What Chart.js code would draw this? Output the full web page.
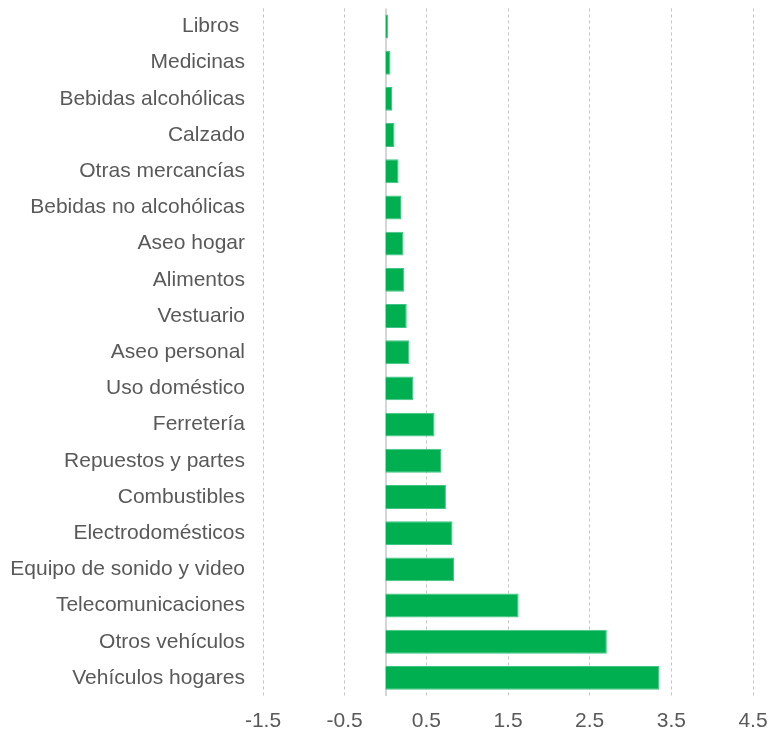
<!DOCTYPE html>
<html>
<head>
<meta charset="utf-8">
<script src="https://cdn.jsdelivr.net/npm/chart.js@4/dist/chart.umd.min.js"></script>
<style>
  html, body { margin: 0; padding: 0; background: #fff; }
  #wrap { width: 768px; height: 733px; }
</style>
</head>
<body>
<div id="wrap"><canvas id="barChart"></canvas></div>
<script>
// categories, top to bottom
const categories = ['Libros ', 'Medicinas', 'Bebidas alcohólicas', 'Calzado', 'Otras mercancías',
  'Bebidas no alcohólicas', 'Aseo hogar', 'Alimentos', 'Vestuario', 'Aseo personal',
  'Uso doméstico', 'Ferretería', 'Repuestos y partes', 'Combustibles', 'Electrodomésticos',
  'Equipo de sonido y video', 'Telecomunicaciones', 'Otros vehículos', 'Vehículos hogares'];
const values = [0.03, 0.06, 0.08, 0.11, 0.16, 0.19, 0.22, 0.23, 0.26, 0.29,
  0.34, 0.60, 0.68, 0.74, 0.82, 0.84, 1.63, 2.71, 3.35];
const axisMin = -1.5;
const axisMax = 4.5;
const axisStep = 1;

const textColor = '#595959';
const fontFamily = '"Liberation Sans", Arial, sans-serif';

// vertical line at zero
const zeroLine = {
  id: 'zeroLine',
  beforeDatasetsDraw(chart) {
    const x = Math.round(chart.scales.x.getPixelForValue(0));
    const { top, bottom } = chart.chartArea;
    const ctx = chart.ctx;
    ctx.save();
    ctx.strokeStyle = '#d6d6d6';
    ctx.lineWidth = 2;
    ctx.beginPath();
    ctx.moveTo(x, top);
    ctx.lineTo(x, bottom);
    ctx.stroke();
    ctx.restore();
  }
};

const ctx = document.getElementById('barChart').getContext('2d');
new Chart(ctx, {
  type: 'bar',
  data: {
    labels: categories,
    datasets: [{
      data: values,
      backgroundColor: '#00b050',
      borderColor: '#3fc583',
      borderWidth: 1,
      barPercentage: 1,
      categoryPercentage: 0.66
    }]
  },
  options: {
    indexAxis: 'y',
    responsive: true,
    maintainAspectRatio: false,
    animation: false,
    layout: { padding: { top: 8, right: 15, left: 0, bottom: 0 } },
    plugins: { legend: { display: false }, tooltip: { enabled: false } },
    scales: {
      x: {
        min: axisMin,
        max: axisMax,
        ticks: {
          stepSize: axisStep,
          color: textColor,
          font: { family: fontFamily, size: 21 },
          padding: 0,
          callback: v => Number(v).toFixed(1)
        },
        grid: {
          color: '#c4c4c4',
          lineWidth: 1,
          drawTicks: true,
          tickLength: 13,
          tickColor: 'rgba(0,0,0,0)'
        },
        border: { display: false, dash: [3, 3] },
        afterFit(scale) { scale.height = 37; }
      },
      y: {
        ticks: {
          color: textColor,
          font: { family: fontFamily, size: 21, lineHeight: 0.8 },
          padding: 0,
          autoSkip: false
        },
        grid: {
          display: true,
          drawOnChartArea: false,
          drawTicks: true,
          tickLength: 18,
          tickColor: 'rgba(0,0,0,0)'
        },
        border: { display: false },
        afterFit(scale) { scale.width = 263; }
      }
    }
  },
  plugins: [zeroLine]
});
</script>
</body>
</html>
